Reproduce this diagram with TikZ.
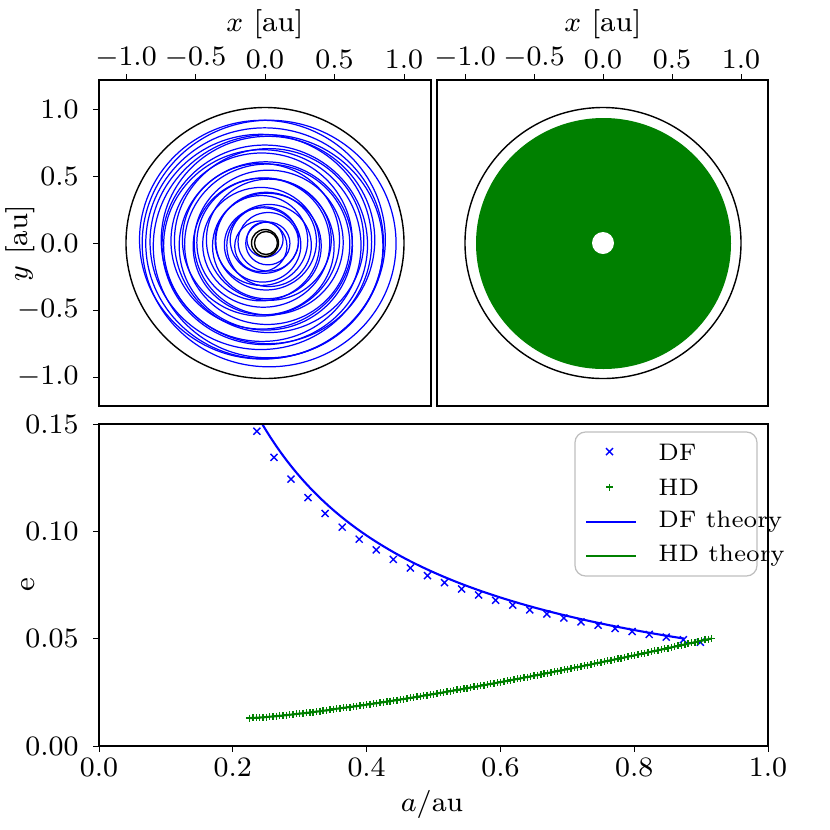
\documentclass[tikz,border=0pt]{standalone}
\usepackage{tikz}
\begin{document}
\begin{tikzpicture}[x=0.1mm,y=-0.1mm,
  lab/.style={font=\fontsize{8.3}{10}\selectfont},
  leg/.style={font=\fontsize{6.8}{8}\selectfont,anchor=west},
  tick/.style={line width=0.25pt},
  frame/.style={line width=0.35pt}]
\useasboundingbox (0,0) rectangle (830,830);
% ---------- top-left panel
\begin{scope}
\clip (99,80) rectangle (431,406);
\foreach \i in {0,...,27}{
  \pgfmathsetmacro{\r}{0.13+0.029*\i}
  \pgfmathsetmacro{\dx}{0.03*sin(\i*137)}
  \pgfmathsetmacro{\dy}{0.025*cos(\i*97)}
  \draw[blue,line width=0.35pt] ({265+139*\dx},{243-134*\dy}) ellipse ({139*\r} and {135*\r});
}
\draw[black,line width=0.4pt] (265,243) ellipse (139 and 135.5);
\draw[black,line width=0.4pt] (265,243) circle (13.5);
\draw[black,line width=0.4pt] (266,243) circle (11.5);
\end{scope}
\draw[frame] (99,80) rectangle (431,406);
\foreach \v/\t in {-1/$-1.0$,-0.5/$-0.5$,0/$0.0$,0.5/$0.5$,1/$1.0$}{
  \draw[tick] ({265+139*\v},80) -- ({265+139*\v},74);
  \node[lab,anchor=south,inner ysep=1pt] at ({265+139*\v},73) {\t};
  \draw[tick] (99,{243-134*\v}) -- (93,{243-134*\v});
  \node[lab,anchor=east] at (91,{243-134*\v}) {\t};
}
\node[lab,inner ysep=1pt] at (265,24) {$x$ [au]};
\node[lab,rotate=90] at (20,243) {$y$ [au]};
% ---------- top-right panel
\fill[green!50!black] (603.5,243.5) ellipse (127.5 and 125.5);
\fill[white] (603,243) circle (11);
\draw[black,line width=0.4pt] (603,243) ellipse (138 and 135.5);
\draw[frame] (437,80) rectangle (768,406);
\foreach \v/\t in {-1/$-1.0$,-0.5/$-0.5$,0/$0.0$,0.5/$0.5$,1/$1.0$}{
  \draw[tick] ({603+138*\v},80) -- ({603+138*\v},74);
  \node[lab,anchor=south,inner ysep=1pt] at ({603+138*\v},73) {\t};
}
\node[lab,inner ysep=1pt] at (603,24) {$x$ [au]};
% ---------- bottom panel
\begin{scope}
\clip (99,424) rectangle (768,746);
\draw[blue,line width=0.6pt] plot[domain=0.24:0.875,samples=80] ({99+669*\x},{746-2147*0.05*pow(\x/0.875,-0.86)});
\draw[green!50!black,line width=0.6pt] plot[domain=0.225:0.915,samples=60] ({99+669*\x},{746-2147*(0.013+0.06*pow(\x-0.225,1.3))});
\foreach \i in {0,...,26}{
  \pgfmathsetmacro{\a}{0.236+0.0255*\i}
  \pgfmathsetmacro{\e}{0.05*pow(\a/0.875,-0.86)*(0.95+0.04*(\a-0.236)/0.66)}
  \draw[blue,line width=0.4pt] ({99+669*\a-3.5},{746-2147*\e-3.5}) -- ++(7,7) ({99+669*\a-3.5},{746-2147*\e+3.5}) -- ++(7,-7);
}
\foreach \i in {0,...,138}{
  \pgfmathsetmacro{\a}{0.225+0.005*\i}
  \pgfmathsetmacro{\e}{0.013+0.06*pow(\a-0.225,1.3)}
  \draw[green!50!black,line width=0.4pt] ({99+669*\a-3.5},{746-2147*\e}) -- ++(7,0) ({99+669*\a},{746-2147*\e-3.5}) -- ++(0,7);
}
\end{scope}
\draw[frame] (99,424) rectangle (768,746);
\foreach \v/\t in {0/$0.0$,0.2/$0.2$,0.4/$0.4$,0.6/$0.6$,0.8/$0.8$,1/$1.0$}{
  \draw[tick] ({99+669*\v},746) -- ({99+669*\v},752);
  \node[lab,anchor=north,inner ysep=1pt] at ({99+669*\v},754) {\t};
}
\foreach \v/\t in {0/$0.00$,0.05/$0.05$,0.1/$0.10$,0.15/$0.15$}{
  \draw[tick] (99,{746-2147*\v}) -- (93,{746-2147*\v});
  \node[lab,anchor=east] at (91,{746-2147*\v}) {\t};
}
\node[lab,inner ysep=1pt] at (432,804) {$a/\mathrm{au}$};
\node[lab,rotate=90] at (28,585) {e};
% legend
\draw[black!25,line width=0.35pt,rounded corners=3,fill=white] (575,432) rectangle (757,576);
\draw[blue,line width=0.4pt] (606,448) -- ++(7,7) (606,455) -- ++(7,-7);
\node[leg] at (646,452) {DF};
\draw[green!50!black,line width=0.4pt] (606,487) -- ++(7,0) (609.5,483.5) -- ++(0,7);
\node[leg] at (646,487) {HD};
\draw[blue,line width=0.6pt] (586,522) -- (636,522);
\node[leg] at (646,522) {DF theory};
\draw[green!50!black,line width=0.6pt] (586,556) -- (636,556);
\node[leg] at (646,556) {HD theory};
\end{tikzpicture}
\end{document}
